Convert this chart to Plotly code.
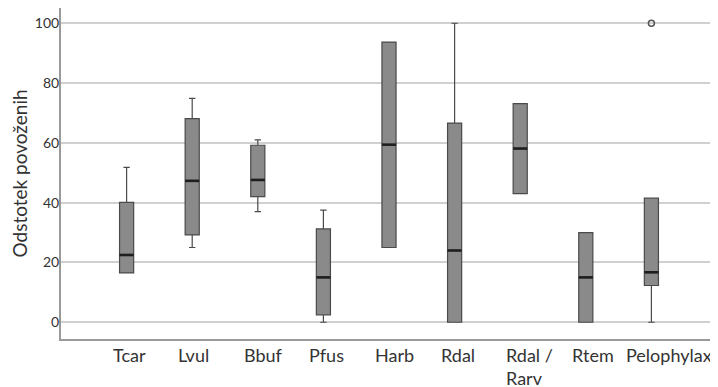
import plotly.graph_objects as go

categories = ["Tcar", "Lvul", "Bbuf", "Pfus", "Harb", "Rdal", "Rdal /<br>Rarv", "Rtem", "Pelophylax"]
lower = [16.5, 25, 37, 0, 25, 0, 43, 0, 0]
q1 = [16.5, 29.2, 42, 2.5, 25, 0, 43, 0, 12.3]
median = [22.5, 47.3, 47.6, 15, 59.4, 24, 58.1, 15, 16.7]
q3 = [40.1, 68.1, 59.2, 31.2, 93.7, 66.6, 73.1, 30, 41.5]
upper = [51.8, 74.9, 61, 37.5, 93.7, 100, 73.1, 30, 41.5]
outlier_cat = [8]
outlier_val = [100]
y_ticks = [0, 20, 40, 60, 80, 100]

pos = list(range(len(categories)))
box_w = 0.215
x_range = [-1, 9]

fig = go.Figure()
fig.add_trace(go.Box(
    x=pos, q1=q1, median=median, q3=q3, lowerfence=lower, upperfence=upper,
    width=box_w, whiskerwidth=0.45, boxpoints=False,
    fillcolor="#8a8a8a", line=dict(color="#4a4a4a", width=1.2),
    showlegend=False, hoverinfo="skip"))

mx, my = [], []
for p, m in zip(pos, median):
    mx += [p - box_w / 2, p + box_w / 2, None]
    my += [m, m, None]
fig.add_trace(go.Scatter(x=mx, y=my, mode="lines", line=dict(color="#1e1e1e", width=2.6),
                         showlegend=False, hoverinfo="skip"))

fig.add_trace(go.Scatter(x=outlier_cat, y=outlier_val, mode="markers",
                         marker=dict(symbol="circle-open", size=6, color="#555", line=dict(width=1.5)),
                         showlegend=False, hoverinfo="skip"))

# category labels: left-aligned in each slot, last one clamped to the plot edge
for i, (p, lab) in enumerate(zip(pos, categories)):
    last = i == len(categories) - 1
    fig.add_annotation(
        x=x_range[1] if last else p - 0.245, xref="x",
        y=0, yref="paper", yanchor="top", yshift=-3,
        xanchor="right" if last else "left", align="left",
        xshift=-3 if last else 0,
        text=lab, showarrow=False,
        font=dict(family="Lato", size=18, color="#333"))

fig.update_layout(
    width=710, height=379,
    margin=dict(l=53, r=1, t=0, b=48),
    paper_bgcolor="white", plot_bgcolor="white",
    font=dict(family="Lato", color="#333"),
    xaxis=dict(range=x_range, tickvals=pos, showticklabels=False, showgrid=False,
               zeroline=False, showline=True, linecolor="#9a9a9a", linewidth=2,
               ticks="", automargin=False),
    yaxis=dict(range=[-5.6, 105.1], tickvals=y_ticks, showgrid=True, gridcolor="#d0d0d0",
               gridwidth=1.5, zeroline=False, showline=True, linecolor="#9a9a9a", linewidth=2,
               tickfont=dict(size=14, color="#333"), ticks="", automargin=False,
               ticklabelstandoff=-3,
               title=dict(text="Odstotek povoženih", font=dict(size=19, color="#333"), standoff=2)),
)

fig.write_html("out.html")
